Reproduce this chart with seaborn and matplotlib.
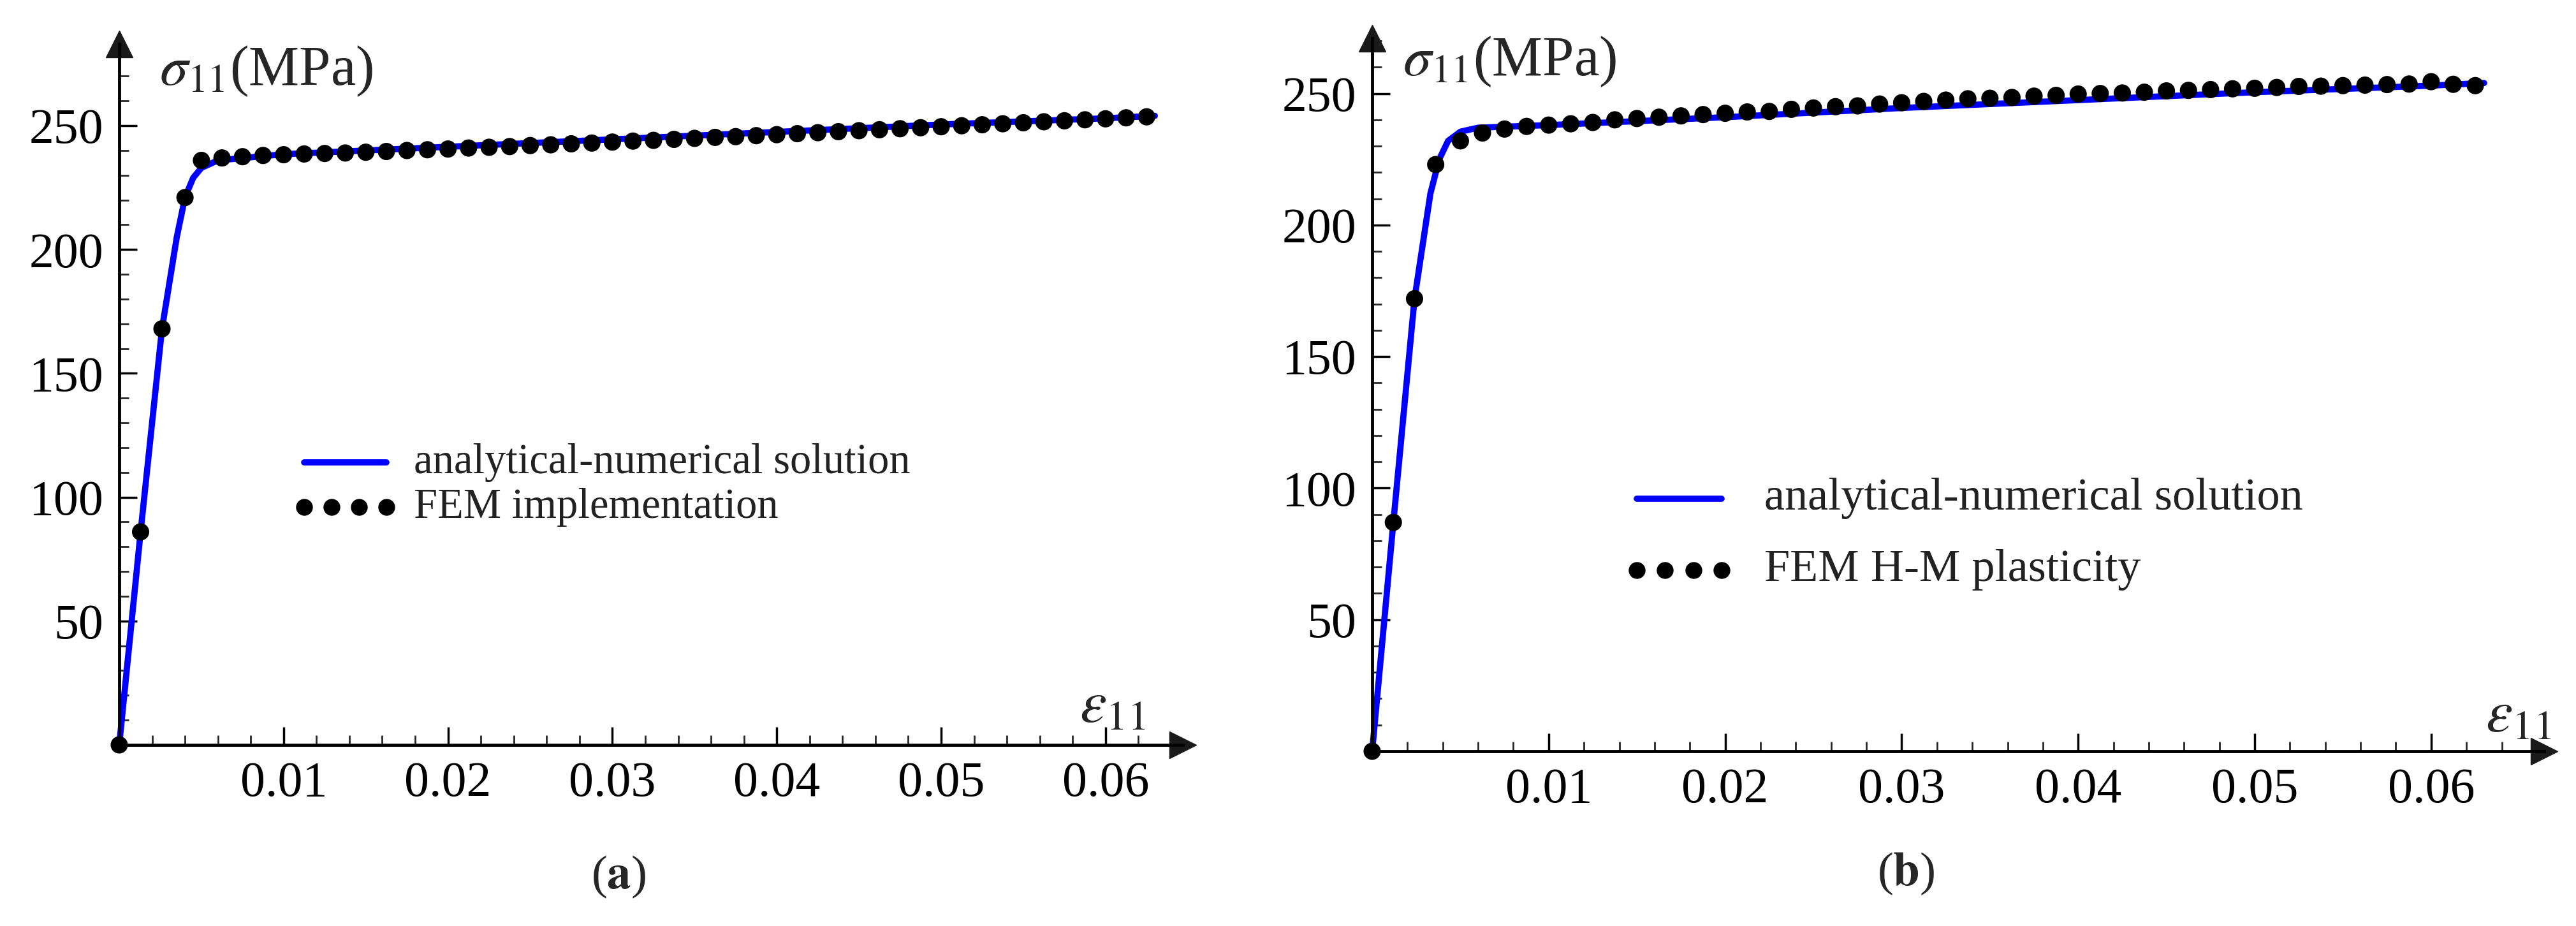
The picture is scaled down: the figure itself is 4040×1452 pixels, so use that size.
import numpy as np
import pandas as pd
import matplotlib
matplotlib.use("Agg")
import matplotlib.pyplot as plt
import seaborn as sns
from matplotlib.ticker import MultipleLocator

sns.set_theme(style="white")
plt.rcParams["font.family"] = ["Liberation Serif", "DejaVu Serif"]
plt.rcParams["mathtext.fontset"] = "stix"

W, H = 4040, 1452

# ── Data ─────────────────────────────────────────────────────────────────────
plateau_x = [0.005, 0.00625, 0.0075, 0.00875, 0.01, 0.01125, 0.0125, 0.01375, 0.015, 0.01625,
             0.0175, 0.01875, 0.02, 0.02125, 0.0225, 0.02375, 0.025, 0.02625, 0.0275, 0.02875,
             0.03, 0.03125, 0.0325, 0.03375, 0.035, 0.03625, 0.0375, 0.03875, 0.04, 0.04125,
             0.0425, 0.04375, 0.045, 0.04625, 0.0475, 0.04875, 0.05, 0.05125, 0.0525, 0.05375,
             0.055, 0.05625, 0.0575, 0.05875, 0.06, 0.06125, 0.0625]

# panel (a)
line_a_x = [0, 0.0013, 0.0026, 0.0035, 0.004, 0.0045, 0.005, 0.006, 0.01, 0.02, 0.03, 0.04, 0.05, 0.06, 0.063]
line_a_y = [0, 86, 168, 205, 221, 229, 233, 236, 238.5, 241.5, 244.5, 247.5, 250.5, 253, 254]
dots_a_x = [0, 0.0013, 0.0026, 0.004] + plateau_x
dots_a_y = [0, 86, 168, 221] + [236.0, 237, 237.5, 238, 238.3, 238.6, 238.8, 239, 239.3, 239.6,
                                 240, 240.3, 240.6, 241, 241.3, 241.6, 242, 242.3, 242.7, 243,
                                 243.4, 243.8, 244.1, 244.5, 244.9, 245.3, 245.6, 246, 246.4, 246.8,
                                 247.2, 247.6, 248, 248.4, 248.8, 249.2, 249.6, 250, 250.4, 250.8,
                                 251.2, 251.6, 252, 252.4, 252.8, 253.2, 253.6]

# panel (b)
line_b_x = [0, 0.0012, 0.0024, 0.0033, 0.0038, 0.0043, 0.005, 0.006, 0.01, 0.02, 0.03, 0.04, 0.05, 0.06, 0.063]
line_b_y = [0, 87, 172, 212, 225, 232, 235.5, 237, 238, 241, 244.5, 247.5, 250.5, 253, 254]
dots_b_x = [0, 0.0012, 0.0024, 0.0036] + plateau_x
dots_b_y = [0, 87, 172, 223] + [232, 235, 236.5, 237.5, 238, 238.5, 239, 240, 240.5, 241,
                                 241.5, 242, 242.5, 243, 243.2, 244, 244.5, 245, 245.3, 246,
                                 246.5, 247, 247.5, 248, 248.2, 248.5, 249, 249.3, 249.8, 250,
                                 250.2, 250.5, 251, 251.2, 251.5, 251.8, 252, 252.3, 252.7, 252.8,
                                 253, 253.2, 253.4, 253.6, 254.5, 253.5, 253]

x_ticks = [0.01, 0.02, 0.03, 0.04, 0.05, 0.06]
y_ticks = [50, 100, 150, 200, 250]


def fx(p):
    return p / W


def fy(p):
    return 1 - p / H


def make_panel(fig, origin, x_end, y_top, xmax, ymax, lx, ly, dx, dy, fem_label,
               legend_pos, eps_pos, sig_pos, cap_pos, leg_fs, cap):
    ox, oy = origin
    ax = fig.add_axes([fx(ox), fy(oy), (x_end - ox) / W, (oy - y_top) / H])
    ax.set_xlim(0, xmax)
    ax.set_ylim(0, ymax)

    sns.lineplot(x=lx, y=ly, ax=ax, color="#0000FF", linewidth=7, sort=False,
                 zorder=2, clip_on=False)
    sns.scatterplot(x=dx, y=dy, ax=ax, color="black", s=380, edgecolor="none",
                    zorder=3, clip_on=False)

    for side in ["top", "right"]:
        ax.spines[side].set_visible(False)
    for side in ["left", "bottom"]:
        ax.spines[side].set_linewidth(3.5)
        ax.spines[side].set_color("black")
    ax.plot(1, 0, ">k", ms=30, transform=ax.transAxes, clip_on=False)
    ax.plot(0, 1, "^k", ms=30, transform=ax.transAxes, clip_on=False)

    ax.set_xticks(x_ticks)
    ax.set_xticklabels([f"{t:.2f}" for t in x_ticks])
    ax.xaxis.set_minor_locator(MultipleLocator(0.002))
    ax.set_yticks(y_ticks)
    ax.yaxis.set_minor_locator(MultipleLocator(10))
    ax.tick_params(axis="both", which="major", direction="in", length=20, width=2.5,
                   labelsize=56, pad=18, bottom=True, left=True, colors="black")
    ax.tick_params(axis="both", which="minor", direction="in", length=11, width=2,
                   bottom=True, left=True)
    ax.set_xlabel("")
    ax.set_ylabel("")
    ax.grid(False)

    # legend drawn manually
    (l0, l1), ly1, ly2, tx = legend_pos
    fig.add_artist(plt.Line2D([fx(l0), fx(l1)], [fy(ly1), fy(ly1)], color="#0000FF", lw=7))
    fig.add_artist(plt.Line2D(np.linspace(fx(l0), fx(l1), 4), [fy(ly2)] * 4, color="black",
                              ls="none", marker="o", ms=18))
    fig.text(fx(tx), fy(ly1), "analytical-numerical solution", fontsize=leg_fs,
             va="center", ha="left", color="#222222")
    fig.text(fx(tx), fy(ly2), fem_label, fontsize=leg_fs, va="center", ha="left",
             color="#222222")

    fig.text(fx(eps_pos[0]), fy(eps_pos[1]), r"$\varepsilon_{11}$", fontsize=68,
             ha="center", va="center")
    fig.text(fx(sig_pos[0]), fy(sig_pos[1]), r"$\sigma_{11}$(MPa)", fontsize=64,
             ha="left", va="center")
    fig.text(fx(cap_pos[0]), fy(cap_pos[1]), cap, fontsize=54, ha="center", va="center")
    return ax


fig = plt.figure(figsize=(W / 100, H / 100), dpi=100)

make_panel(fig, (187, 1168), 1855, 69, 0.0647, 283,
           line_a_x, line_a_y, dots_a_x, dots_a_y, "FEM implementation",
           ((477, 606), 725, 795, 649), (1745, 1110), (250, 112), (970, 1375), 48,
           r"($\mathbf{a}$)")

make_panel(fig, (2152, 1178), 3990, 60, 0.0664, 271,
           line_b_x, line_b_y, dots_b_x, dots_b_y, "FEM H-M plasticity",
           ((2567, 2700), 782, 894, 2767), (3950, 1125), (2200, 97), (2989, 1370), 52,
           r"($\mathbf{b}$)")

fig.savefig("out.png", dpi=100)
